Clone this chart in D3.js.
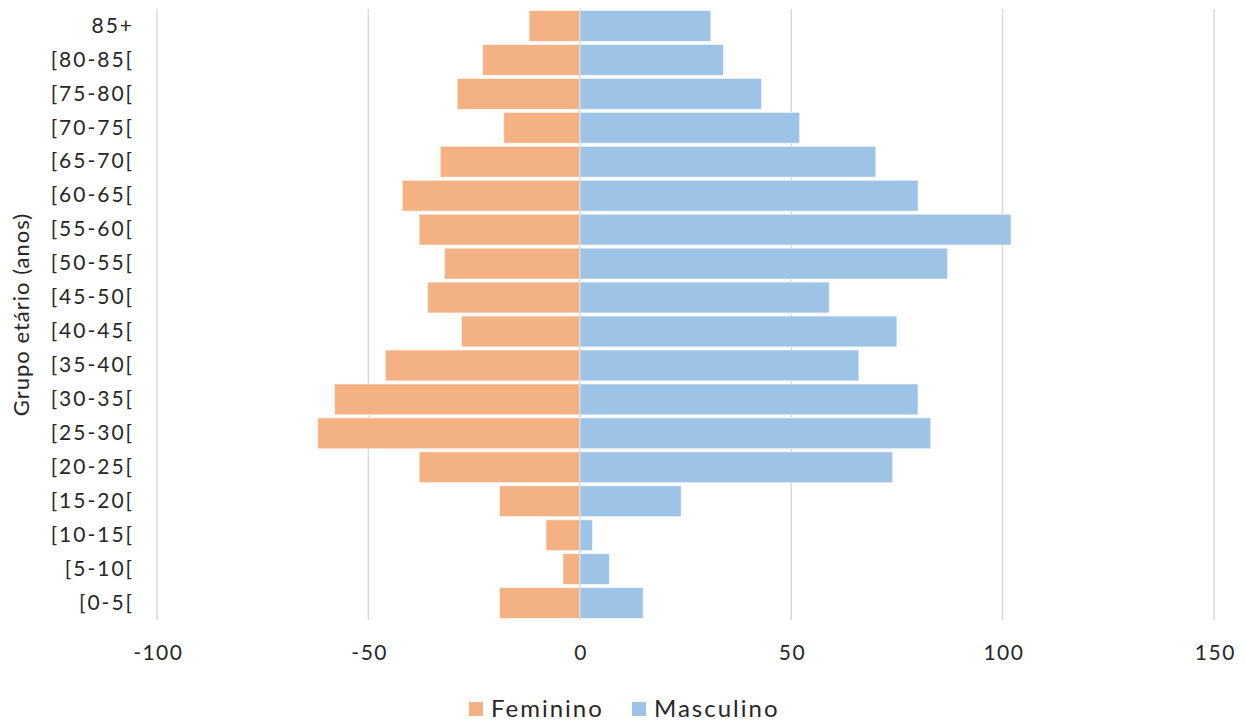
<!DOCTYPE html>
<html>
<head>
<meta charset="utf-8">
<script src="https://cdn.jsdelivr.net/npm/d3@7"></script>
<style>
  body { margin: 0; background: #fff; }
  svg text { font-family: Lato, "Open Sans", sans-serif; fill: #262626; }
</style>
</head>
<body>
<div id="chart"></div>
<script>
// Data (top to bottom as shown)
const ageGroups = ["85+", "[80-85[", "[75-80[", "[70-75[", "[65-70[", "[60-65[", "[55-60[", "[50-55[",
    "[45-50[", "[40-45[", "[35-40[", "[30-35[", "[25-30[", "[20-25[", "[15-20[", "[10-15[", "[5-10[", "[0-5["];
const feminino = [-12, -23, -29, -18, -33, -42, -38, -32, -36, -28, -46, -58, -62, -38, -19, -8, -4, -19];
const masculino = [31, 34, 43, 52, 70, 80, 102, 87, 59, 75, 66, 80, 83, 74, 24, 3, 7, 15];
const xTicks = [-100, -50, 0, 50, 100, 150];
const seriesNames = ["Feminino", "Masculino"];
const colors = ["#F4B183", "#9DC3E6"];

const W = 1245, H = 722;
const plot = { left: 157, right: 1214, top: 9, bottom: 620 };

const svg = d3.select("#chart").append("svg")
    .attr("width", W)
    .attr("height", H);

const x = d3.scaleLinear().domain([-100, 150]).range([plot.left, plot.right]);
const y = d3.scaleBand()
    .domain(ageGroups)
    .range([plot.top, plot.bottom])
    .paddingInner(0.09)
    .paddingOuter(0.045);

// Gridlines
svg.append("g")
    .selectAll("line")
    .data(xTicks.filter(d => d !== 0))
    .join("line")
    .attr("x1", d => x(d)).attr("x2", d => x(d))
    .attr("y1", plot.top).attr("y2", plot.bottom)
    .attr("stroke", "#d9d9d9")
    .attr("stroke-width", 1.5);

// Bars
const rows = ageGroups.map((g, i) => ({ g, f: feminino[i], m: masculino[i] }));
[["f", 0], ["m", 1]].forEach(([key, ci]) => {
    svg.append("g")
        .selectAll("rect")
        .data(rows)
        .join("rect")
        .attr("x", d => x(Math.min(0, d[key])))
        .attr("y", d => y(d.g))
        .attr("width", d => Math.abs(x(d[key]) - x(0)))
        .attr("height", y.bandwidth())
        .attr("fill", colors[ci])
        .attr("stroke", "#fff")
        .attr("stroke-opacity", 0.6)
        .attr("stroke-width", 1);
});

// Zero line
svg.append("line")
    .attr("x1", x(0)).attr("x2", x(0))
    .attr("y1", plot.top).attr("y2", plot.bottom)
    .attr("stroke", "#d9d9d9")
    .attr("stroke-width", 1.5);

// X axis labels (plain hyphen for negatives, like the original)
const xAxis = svg.append("g")
    .attr("transform", `translate(0.8,${plot.bottom + 25})`)
    .call(d3.axisBottom(x).tickValues(xTicks).tickFormat(d => String(d)).tickSize(0).tickPadding(0));
xAxis.select(".domain").remove();
xAxis.selectAll("text")
    .attr("font-size", 21)
    .attr("letter-spacing", "1.5px")
    .attr("dy", "0.71em");

// Y axis labels
const yAxis = svg.append("g")
    .attr("transform", `translate(${plot.left - 23},0)`)
    .call(d3.axisLeft(y).tickSize(0).tickPadding(0));
yAxis.select(".domain").remove();
yAxis.selectAll("text")
    .attr("font-size", 21)
    .attr("letter-spacing", "2px");

// Y axis title
svg.append("text")
    .attr("transform", `translate(29,${(plot.top + plot.bottom) / 2}) rotate(-90)`)
    .attr("text-anchor", "middle")
    .attr("font-size", 22)
    .attr("letter-spacing", "1px")
    .text("Grupo etário (anos)");

// Legend
const legend = svg.append("g").attr("transform", "translate(469,702)");
const legendX = [0, 163];
seriesNames.forEach((name, i) => {
    legend.append("rect")
        .attr("x", legendX[i]).attr("y", 0)
        .attr("width", 14).attr("height", 14)
        .attr("fill", colors[i]);
    legend.append("text")
        .attr("x", legendX[i] + 22).attr("y", 15)
        .attr("font-size", 24)
        .attr("letter-spacing", "2px")
        .text(name);
});
</script>
</body>
</html>
